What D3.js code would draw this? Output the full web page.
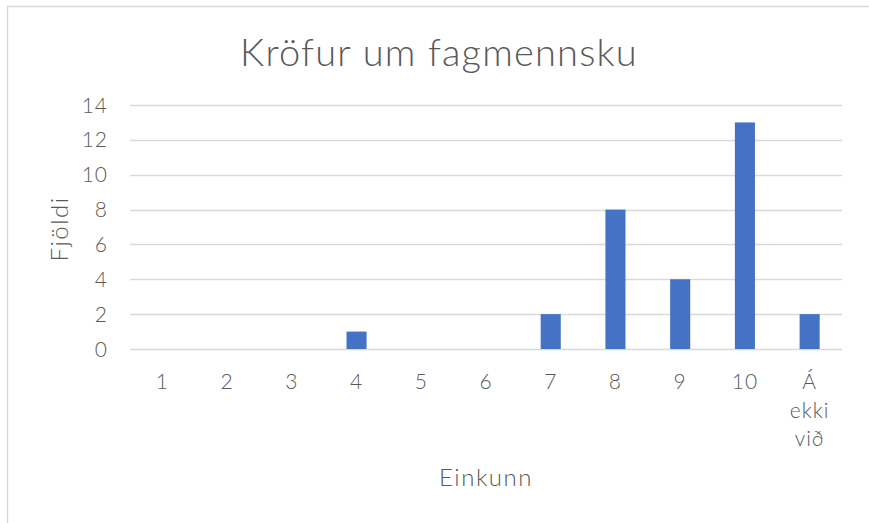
<!DOCTYPE html>
<html>
<head>
<meta charset="utf-8">
<script src="https://cdn.jsdelivr.net/npm/d3@7"></script>
<style>
  body { margin: 0; background: #fff; }
  text { font-family: "Lato", "DejaVu Sans", sans-serif; }
</style>
</head>
<body>
<script>
// data
const categories = ["1", "2", "3", "4", "5", "6", "7", "8", "9", "10", "Á ekki við"];
const counts = [0, 0, 0, 1, 0, 0, 2, 8, 4, 13, 2];
const yTicks = [0, 2, 4, 6, 8, 10, 12, 14];

const W = 869, H = 523;
// plot area
const plotLeft = 130, plotRight = 842, plotTop = 105, plotBottom = 349;

const svg = d3.select("body")
    .append("svg")
    .attr("width", W)
    .attr("height", H);

// chart frame (only left/top visible in the crop)
svg.append("rect")
    .attr("x", 7.5)
    .attr("y", 6.5)
    .attr("width", W + 10)
    .attr("height", H + 10)
    .attr("fill", "#fff")
    .attr("stroke", "#d9d9d9")
    .attr("stroke-width", 1.5);

const x = d3.scaleBand()
    .domain(categories)
    .range([plotLeft, plotRight])
    .paddingInner(0.69)
    .paddingOuter(0.345);

const xBand = d3.scaleBand()
    .domain(categories)
    .range([plotLeft, plotRight]);

const y = d3.scaleLinear()
    .domain([0, 14])
    .range([plotBottom, plotTop]);

// gridlines
svg.append("g")
    .selectAll("line")
    .data(yTicks)
    .enter()
    .append("line")
    .attr("x1", plotLeft)
    .attr("x2", plotRight)
    .attr("y1", d => Math.round(y(d)) + 0.5)
    .attr("y2", d => Math.round(y(d)) + 0.5)
    .attr("stroke", "#d9d9d9")
    .attr("stroke-width", 1.3);

// y tick labels
svg.append("g")
    .selectAll("text")
    .data(yTicks)
    .enter()
    .append("text")
    .attr("x", 108)
    .attr("y", d => y(d))
    .attr("dy", "0.36em")
    .attr("text-anchor", "end")
    .attr("fill", "#595959")
    .style("font-size", "21px")
    .style("letter-spacing", "1px")
    .style("font-weight", 300)
    .text(d => d);

// bars
svg.append("g")
    .selectAll("rect")
    .data(counts)
    .enter()
    .append("rect")
    .attr("x", (d, i) => x(categories[i]))
    .attr("width", x.bandwidth())
    .attr("y", d => y(d))
    .attr("height", d => y(0) - y(d))
    .attr("fill", "#4472c4");

// x tick labels (wrap on spaces)
const xl = svg.append("g")
    .selectAll("text")
    .data(categories)
    .enter()
    .append("text")
    .attr("x", d => xBand(d) + xBand.bandwidth() / 2)
    .attr("y", 389)
    .attr("text-anchor", "middle")
    .attr("fill", "#595959")
    .style("font-size", "21px")
    .style("letter-spacing", "1px")
    .style("font-weight", 300);

xl.each(function(d) {
    const words = d.split(" ");
    const t = d3.select(this);
    words.forEach((w, i) => {
        t.append("tspan")
            .attr("x", xBand(d) + xBand.bandwidth() / 2)
            .attr("dy", i === 0 ? 0 : 28.5)
            .text(w);
    });
});

// title
svg.append("text")
    .attr("x", 439)
    .attr("y", 66)
    .attr("text-anchor", "middle")
    .attr("fill", "#595959")
    .style("font-size", "38px")
    .style("letter-spacing", "1.2px")
    .style("font-weight", 300)
    .text("Kröfur um fagmennsku");

// axis titles
svg.append("text")
    .attr("x", 486)
    .attr("y", 486)
    .attr("text-anchor", "middle")
    .attr("fill", "#595959")
    .style("font-size", "24px")
    .style("letter-spacing", "1.5px")
    .style("font-weight", 300)
    .text("Einkunn");

svg.append("text")
    .attr("transform", "translate(68,229) rotate(-90)")
    .attr("text-anchor", "middle")
    .attr("fill", "#595959")
    .style("font-size", "24px")
    .style("letter-spacing", "1.5px")
    .style("font-weight", 300)
    .text("Fjöldi");
</script>
</body>
</html>
